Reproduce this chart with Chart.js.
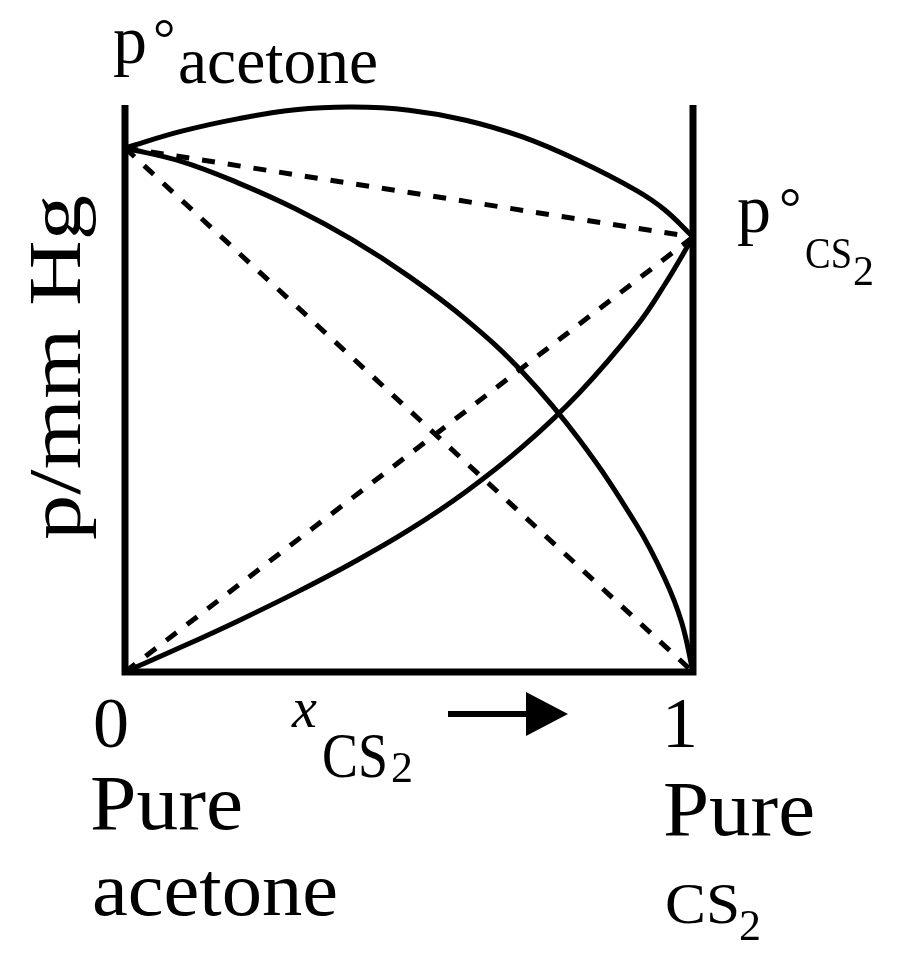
<!DOCTYPE html>
<html>
<head>
<meta charset="utf-8">
<style>
  html, body { margin: 0; padding: 0; background: #fff; }
  canvas { display: block; }
</style>
</head>
<body>
<canvas id="vapour-pressure-chart" width="900" height="969"></canvas>
<script src="https://cdn.jsdelivr.net/npm/chart.js"></script>
<script>
// mole fraction of CS2 (read at these positions) and pressure (p°acetone = 100)
const fractions = [0, 0.1, 0.2, 0.3, 0.4, 0.5, 0.6, 0.7, 0.8, 0.9, 0.95, 1];
const totalP = [100, 103.2, 105.6, 107.3, 107.8, 107.2, 105.3, 102.1, 97.5, 91.9, 88.2, 83];
const cs2P = [0, 4.8, 9.8, 15.1, 20.8, 27.1, 34.4, 43.0, 53.3, 65.9, 73.9, 83];

const acetoneX = [0, 0.1, 0.2, 0.3, 0.4, 0.5, 0.6, 0.7, 0.8, 0.9, 0.95, 0.98, 1];
const acetoneP = [100, 97.4, 93.3, 88.4, 82.5, 75.5, 67.3, 57.2, 44.3, 28.2, 17.9, 9.5, 0];

// ideal (Raoult's law) straight lines
const idealX = [0, 1];
const idealTotalP = [100, 83];
const idealAcetoneP = [100, 0];
const idealCs2P = [0, 83];

const pMax = 108.2;

const toPoints = (xs, ps) => xs.map((x, i) => ({ x: x, y: ps[i] }));

function drawText(c, str, x, y, size, width, italic) {
  c.save();
  c.font = (italic ? "italic " : "") + size + 'px "Liberation Serif"';
  c.textAlign = "left";
  c.textBaseline = "alphabetic";
  c.translate(x, y);
  if (width) c.scale(width / c.measureText(str).width, 1);
  c.fillText(str, 0, 0);
  c.restore();
}

const framePlugin = {
  id: "frame",
  beforeDatasetsDraw(chart) {
    const c = chart.ctx;
    const xs = chart.scales.x;
    const ys = chart.scales.y;
    const left = xs.getPixelForValue(0);
    const right = xs.getPixelForValue(1);
    const top = ys.getPixelForValue(pMax);
    const bottom = ys.getPixelForValue(0);
    c.save();
    c.strokeStyle = "#000";
    c.lineWidth = 7;
    c.lineCap = "butt";
    c.lineJoin = "miter";
    c.beginPath();
    c.moveTo(left, top);
    c.lineTo(left, bottom);
    c.lineTo(right, bottom);
    c.lineTo(right, top);
    c.stroke();
    c.restore();
  },
  afterDraw(chart) {
    const c = chart.ctx;
    c.save();
    c.fillStyle = "#000";

    drawText(c, "p", 113, 63, 68);
    drawText(c, "°", 153, 58, 56);
    drawText(c, "acetone", 178, 83, 66, 200);

    drawText(c, "p", 737, 232, 68);
    drawText(c, "°", 779, 227, 56);
    drawText(c, "CS", 805, 268, 44, 47);
    drawText(c, "2", 853, 285, 42);

    c.save();
    c.translate(80, 540);
    c.rotate(-Math.PI / 2);
    drawText(c, "p/mm Hg", 0, 0, 75, 345);
    c.restore();

    drawText(c, "0", 93, 747, 72);
    drawText(c, "1", 662, 747, 72);
    drawText(c, "x", 292, 727, 56, null, true);
    drawText(c, "CS", 322, 777, 64, 66);
    drawText(c, "2", 391, 782, 44);

    c.strokeStyle = "#000";
    c.lineWidth = 6;
    c.beginPath();
    c.moveTo(448, 714);
    c.lineTo(535, 714);
    c.stroke();
    c.beginPath();
    c.moveTo(526, 692);
    c.lineTo(568, 714);
    c.lineTo(526, 736);
    c.closePath();
    c.fill();

    drawText(c, "Pure", 90, 829, 78, 153);
    drawText(c, "acetone", 92, 915, 76, 246);
    drawText(c, "Pure", 663, 835, 78, 152);
    drawText(c, "CS", 665, 923, 58, 75);
    drawText(c, "2", 739, 940, 44);
    c.restore();
  },
};

const solid = {
  borderColor: "#000",
  borderWidth: 5,
  pointRadius: 0,
  fill: false,
  clip: false,
  tension: 0.4,
};

const dashed = {
  borderColor: "#000",
  borderWidth: 5,
  borderDash: [13, 13],
  pointRadius: 0,
  fill: false,
  clip: false,
  tension: 0,
};

const ctx = document.getElementById("vapour-pressure-chart").getContext("2d");
const vpChart = new Chart(ctx, {
  type: "line",
  data: {
    datasets: [
      { label: "p total", data: toPoints(fractions, totalP), ...solid },
      { label: "p acetone", data: toPoints(acetoneX, acetoneP), ...solid },
      { label: "p CS2", data: toPoints(fractions, cs2P), ...solid },
      { label: "ideal total", data: toPoints(idealX, idealTotalP), ...dashed },
      { label: "ideal acetone", data: toPoints(idealX, idealAcetoneP), ...dashed },
      { label: "ideal CS2", data: toPoints(idealX, idealCs2P), ...dashed },
    ],
  },
  options: {
    responsive: false,
    animation: false,
    devicePixelRatio: 1,
    layout: {
      padding: { left: 125, right: 207, top: 105, bottom: 297 },
    },
    scales: {
      x: { type: "linear", min: 0, max: 1, display: false },
      y: { type: "linear", min: 0, max: pMax, display: false },
    },
    plugins: {
      legend: { display: false },
      tooltip: { enabled: false },
    },
  },
  plugins: [framePlugin],
});
</script>
</body>
</html>
